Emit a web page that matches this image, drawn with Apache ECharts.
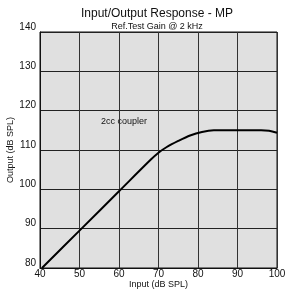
<!DOCTYPE html>
<html>
<head>
<meta charset="utf-8">
<script src="https://cdn.jsdelivr.net/npm/echarts@6/dist/echarts.min.js"></script>
<style>
  html, body { margin: 0; padding: 0; background: #fff; }
  #chart { width: 285px; height: 291px; }
</style>
</head>
<body>
<div id="chart"></div>
<script>
// input level (dB SPL) and output level (dB SPL)
const inputLevels = [40.5, 50, 60, 68, 70, 72, 75, 78, 81, 84, 90, 96, 98, 100]
const outputLevels = [80, 89.5, 99.5, 107.5, 109.3, 110.7, 112.3, 113.7, 114.6, 115, 115, 115, 114.9, 114.4]
const titleText = 'Input/Output Response - MP'
const subtitleText = 'Ref.Test Gain @ 2 kHz'
const noteText = '2cc coupler'

const font = 'Liberation Sans, Arial, sans-serif'
const chart = echarts.init(document.getElementById('chart'))

chart.setOption({
  animation: false,
  title: {
    text: titleText,
    subtext: subtitleText,
    left: 152,
    top: 3,
    textAlign: 'center',
    itemGap: 2,
    textStyle: { fontFamily: font, fontSize: 12, fontWeight: 'normal', color: '#111' },
    subtextStyle: { fontFamily: font, fontSize: 9, color: '#111' }
  },
  grid: {
    left: 40, right: 8, top: 32, bottom: 23,
    containLabel: false,
    outerBoundsMode: 'none',
    show: true, backgroundColor: '#e0e0e0', borderColor: '#111', borderWidth: 1
  },
  xAxis: {
    type: 'value',
    min: 40,
    max: 100,
    interval: 10,
    name: 'Input (dB SPL)',
    nameLocation: 'middle',
    nameGap: 12,
    nameMoveOverlap: false,
    nameTextStyle: { fontFamily: font, fontSize: 9, color: '#111' },
    axisLine: { lineStyle: { color: '#111' } },
    axisTick: { show: false },
    axisLabel: { fontFamily: font, fontSize: 10, color: '#111', margin: 1 },
    splitLine: { lineStyle: { color: '#333', width: 1 } }
  },
  yAxis: {
    type: 'value',
    min: 80,
    max: 140,
    interval: 10,
    name: 'Output (dB SPL)',
    nameLocation: 'middle',
    nameGap: 25,
    nameMoveOverlap: false,
    nameTextStyle: { fontFamily: font, fontSize: 9, color: '#111' },
    axisLine: { lineStyle: { color: '#111' } },
    axisTick: { show: false },
    axisLabel: { fontFamily: font, fontSize: 10, color: '#111', margin: 4, verticalAlign: 'bottom' },
    splitLine: { lineStyle: { color: '#222', width: 1 } }
  },
  graphic: [{
    type: 'text',
    left: 101,
    top: 117,
    style: { text: noteText, font: '9px ' + font, fill: '#111' }
  }],
  series: [{
    type: 'line',
    data: inputLevels.map((x, i) => [x, outputLevels[i]]),
    smooth: 0.3,
    showSymbol: false,
    lineStyle: { color: '#000', width: 2 }
  }]
})
</script>
</body>
</html>
